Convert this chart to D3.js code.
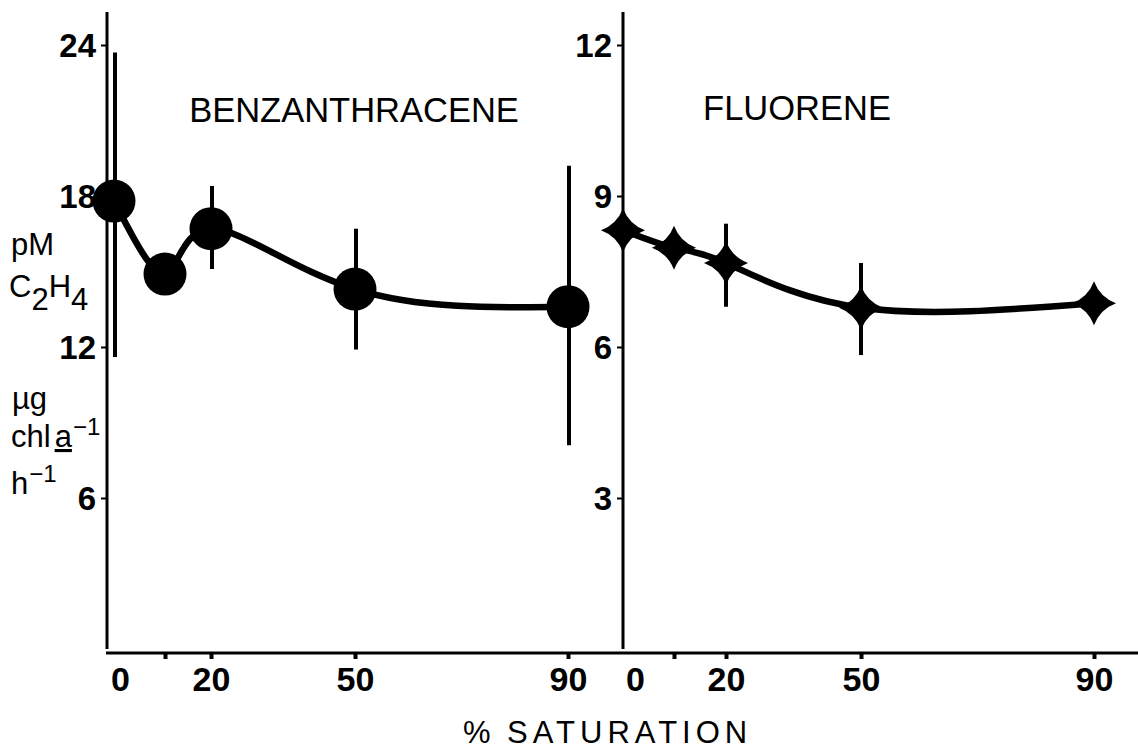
<!DOCTYPE html>
<html>
<head>
<meta charset="utf-8">
<style>
body { margin: 0; background: #fff; }
svg { display: block; }
</style>
</head>
<body>
<svg id="thevis" width="1138" height="753"></svg>
<script src="https://cdn.jsdelivr.net/npm/d3@7"></script>
<script>
// % saturation (x) for both panels
var satBenz = [0, 10, 20, 50, 90];
var satFluor = [0, 10, 20, 50, 90];

// benzanthracene: means and error bar ends (null = no bar drawn)
var benzMean = [17.8, 14.9, 16.7, 14.3, 13.6];
var benzLow  = [11.6, null, 15.1, 11.9, 8.1];
var benzHigh = [23.7, null, 18.4, 16.7, 19.2];

// fluorene
var fluorMean = [8.32, 7.97, 7.67, 6.78, 6.87];
var fluorLow  = [null, null, 6.8, 5.84, null];
var fluorHigh = [null, null, 8.45, 7.67, null];

// tick labels
var benzTicks = [6, 12, 18, 24];
var fluorTicks = [3, 6, 9, 12];
var satTicks = [0, 10, 20, 50, 90];
var satLabels = ["0", "", "20", "50", "90"];

var svg = d3.select("svg");
var font = "'Liberation Sans', Arial, Helvetica, sans-serif";
var W = +svg.attr("width");
var axisY = 653;     // x axis baseline
var axisTop = 12;    // top of the y axis lines

var xL = d3.scaleLinear().domain(satBenz).range([114, 165, 211, 355, 568]);
var xR = d3.scaleLinear().domain(satFluor).range([623, 674, 726, 861, 1094]);
var yL = d3.scaleLinear().domain([0, 24]).range([649, 45]);
var yR = d3.scaleLinear().domain([0, 12]).range([649, 45]);

//shared x axis line
svg.append("line")
    .attr("x1", 106).attr("x2", W)
    .attr("y1", axisY).attr("y2", axisY)
    .attr("stroke", "#000").attr("stroke-width", 3);

function drawPanel(p) {
  // y axis line
  svg.append("line")
      .attr("x1", p.axisX).attr("x2", p.axisX)
      .attr("y1", axisTop).attr("y2", axisY - 4)
      .attr("stroke", "#000").attr("stroke-width", 3);

  var ya = svg.append("g")
      .attr("transform", "translate(" + p.axisX + ",0)")
      .call(d3.axisLeft(p.y).tickValues(p.yTicks).tickSize(6).tickPadding(5));
  ya.select(".domain").remove();
  ya.selectAll(".tick line").attr("stroke", "#000").attr("stroke-width", 2);
  ya.selectAll(".tick text")
      .attr("font-family", font).attr("font-size", 33).attr("font-weight", "bold")
      .attr("fill", "#000").attr("dy", "0.36em");

  var xa = svg.append("g")
      .attr("transform", "translate(0," + axisY + ")")
      .call(d3.axisBottom(p.x).tickValues(satTicks)
        .tickFormat(function(d, i) { return satLabels[i]; })
        .tickSize(6).tickPadding(8));
  xa.select(".domain").remove();
  xa.selectAll(".tick line")
      .attr("stroke", "#000").attr("stroke-width", 4)
      .attr("display", function(d) { return d === 0 ? "none" : null; });
  xa.selectAll(".tick text")
      .attr("font-family", font).attr("font-size", 34).attr("font-weight", "bold")
      .attr("fill", "#000")
      .attr("x", function(d) { return d === 0 ? p.zeroShift : 0; });

  var pts = p.sat.map(function(s, i) {
    return {s: s, m: p.mean[i], lo: p.low[i], hi: p.high[i]};
  });

  // error bars
  svg.append("g").selectAll("line")
    .data(pts.filter(function(d) { return d.lo != null; }))
    .enter().append("line")
      .attr("x1", function(d) { return p.x(d.s) + p.barShift; })
      .attr("x2", function(d) { return p.x(d.s) + p.barShift; })
      .attr("y1", function(d) { return p.y(d.lo); })
      .attr("y2", function(d) { return p.y(d.hi); })
      .attr("stroke", "#000").attr("stroke-width", 4);

  // connecting curve
  svg.append("path")
      .datum(pts)
      .attr("fill", "none").attr("stroke", "#000").attr("stroke-width", 6.5)
      .attr("stroke-linecap", "round")
      .attr("d", d3.line()
        .x(function(d) { return p.x(d.s); })
        .y(function(d) { return p.y(d.m); })
        .curve(d3.curveNatural));

  // markers
  var mk = svg.append("g").selectAll("g")
    .data(pts).enter().append("g")
      .attr("transform", function(d) { return "translate(" + p.x(d.s) + "," + p.y(d.m) + ")"; });
  if (p.marker === "circle") {
    mk.append("circle").attr("r", 21.5).attr("fill", "#000");
  } else {
    mk.append("path").attr("fill", "#000")
      .attr("d", "M0,-22 Q6,-6 22,0 Q6,6 0,22 Q-6,6 -22,0 Q-6,-6 0,-22 Z");
  }

  svg.append("text")
      .attr("x", p.titleX).attr("y", p.titleY)
      .attr("text-anchor", "middle")
      .attr("font-family", font).attr("font-size", 34.5)
      .text(p.title);
}

drawPanel({axisX: 107, x: xL, y: yL, yTicks: benzTicks, sat: satBenz,
  mean: benzMean, low: benzLow, high: benzHigh, marker: "circle",
  zeroShift: 6, barShift: 1, title: "BENZANTHRACENE", titleX: 354, titleY: 122});
drawPanel({axisX: 623, x: xR, y: yR, yTicks: fluorTicks, sat: satFluor,
  mean: fluorMean, low: fluorLow, high: fluorHigh, marker: "star",
  zeroShift: 12, barShift: 0, title: "FLUORENE", titleX: 797, titleY: 120});

// y axis unit label
var lab = svg.append("g")
    .attr("font-family", font).attr("font-size", 31).attr("fill", "#000");
lab.append("text").attr("x", 11).attr("y", 255).text("pM");
var c2h4 = lab.append("text").attr("x", 9).attr("y", 297);
c2h4.append("tspan").text("C");
c2h4.append("tspan").attr("dy", 13).text("2");
c2h4.append("tspan").attr("dy", -13).text("H");
c2h4.append("tspan").attr("dy", 13).text("4");
lab.append("text").attr("x", 12).attr("y", 409).text("\u00b5g");
var chla = lab.append("text").attr("x", 11).attr("y", 447);
chla.append("tspan").text("chl");
chla.append("tspan").attr("dx", 4).attr("text-decoration", "underline").text("a");
chla.append("tspan").attr("dx", 1).attr("dy", -12).attr("font-size", 24).text("\u22121");
var hr = lab.append("text").attr("x", 11).attr("y", 494);
hr.append("tspan").text("h");
hr.append("tspan").attr("dx", 1).attr("dy", -12).attr("font-size", 24).text("\u22121");

// x axis title
svg.append("text")
    .attr("x", 463).attr("y", 743)
    .attr("font-family", font).attr("font-size", 31)
    .text("%");
svg.append("text")
    .attr("x", 507).attr("y", 743)
    .attr("font-family", font).attr("font-size", 31)
    .attr("letter-spacing", 5)
    .text("SATURATION");
</script>
</body>
</html>
